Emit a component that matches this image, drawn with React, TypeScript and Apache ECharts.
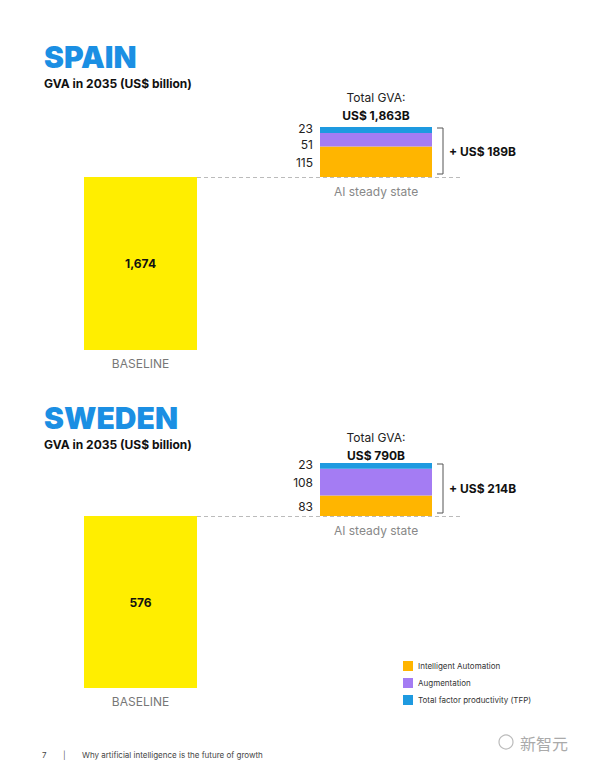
import React, { useEffect, useRef } from "react";
import * as echarts from "echarts";

const countries = ["SPAIN", "SWEDEN"];
const baseline = [1674, 576];
const automation = [115, 83];
const augmentation = [51, 108];
const tfp = [23, 23];
const seriesNames = ["Intelligent Automation", "Augmentation", "Total factor productivity (TFP)"];
const baseCategory = ["BASELINE"];
const aiCategory = ["AI steady state"];

const COLORS = {
  yellow: "#FFEE00",
  orange: "#FFB500",
  purple: "#A47CF3",
  blue: "#1E9AE0",
  title: "#1B8FE3",
};

const FONT = "Inter, 'Noto Sans', sans-serif";

// layout per panel
const panels = [
  { titleY: 58, subY: 85, baseTop: 177, baseH: 173, stackTop: 127, stackH: 50, totalY: 97 },
  { titleY: 419, subY: 446, baseTop: 516, baseH: 172, stackTop: 463, stackH: 53, totalY: 437 },
];

const fmt = (v: number) => v.toLocaleString("en-US");

// keep the stacked value labels apart when segments are thin
const side = (p: any, y: number) => ({ x: p.rect.x - 7, y, align: "right", verticalAlign: "middle" });
const labelLayouts = [
  (p: any) => side(p, p.rect.y + p.rect.height / 2 + 1),
  (p: any) => side(p, Math.max(p.rect.y + p.rect.height / 2, p.rect.y + 11)),
  (p: any) => side(p, p.rect.y + 1),
];

export default function App() {
  const ref = useRef<HTMLDivElement>(null);
  useEffect(() => {
    if (!ref.current) return;
    const chart = echarts.init(ref.current, null, { renderer: "svg" });
    const grids: any[] = [];
    const xAxes: any[] = [];
    const yAxes: any[] = [];
    const series: any[] = [];
    const graphics: any[] = [];

    countries.forEach((c, i) => {
      const p = panels[i];
      const gain = automation[i] + augmentation[i] + tfp[i];
      const total = baseline[i] + gain;
      grids.push({ left: 84, width: 113, top: p.baseTop, height: p.baseH });
      grids.push({ left: 320, width: 112, top: p.stackTop, height: p.stackH });
      const gb = 2 * i;
      const gs = 2 * i + 1;
      xAxes.push({
        type: "category", gridIndex: gb, data: baseCategory,
        axisLine: { show: false }, axisTick: { show: false },
        axisLabel: { color: "#777", fontSize: 12, margin: 7, fontFamily: FONT },
      });
      xAxes.push({
        type: "category", gridIndex: gs, data: aiCategory,
        axisLine: { show: false }, axisTick: { show: false },
        axisLabel: { color: "#888", fontSize: 12, margin: 8, fontFamily: FONT },
      });
      yAxes.push({ type: "value", gridIndex: gb, min: 0, max: baseline[i], show: false, splitLine: { show: false } });
      yAxes.push({ type: "value", gridIndex: gs, min: 0, max: gain, show: false, splitLine: { show: false } });

      series.push({
        type: "bar", name: "Baseline", xAxisIndex: gb, yAxisIndex: gb,
        data: [baseline[i]], barWidth: "100%",
        itemStyle: { color: COLORS.yellow },
        label: {
          show: true, position: "inside", color: "#111", fontSize: 12, fontWeight: "bold",
          fontFamily: FONT, formatter: (d: any) => fmt(d.value),
        },
      });
      const vals = [automation[i], augmentation[i], tfp[i]];
      const cols = [COLORS.orange, COLORS.purple, COLORS.blue];
      vals.forEach((v, k) => {
        series.push({
          type: "bar", name: seriesNames[k], xAxisIndex: gs, yAxisIndex: gs,
          stack: "ai" + i, data: [v], barWidth: "100%",
          itemStyle: { color: cols[k] },
          label: { show: true, position: "left", distance: 7, color: "#222", fontSize: 12, fontFamily: FONT },
          labelLayout: labelLayouts[k],
        });
      });

      graphics.push({
        type: "text", left: 44, top: p.titleY - 16,
        style: { text: c, fontSize: 30, fontWeight: 900, fontFamily: FONT, fill: COLORS.title },
      });
      graphics.push({
        type: "text", left: 44, top: p.subY - 8,
        style: { text: "GVA in 2035 (US$ billion)", fontSize: 12, fontWeight: "bold", fontFamily: FONT, fill: "#111" },
      });
      graphics.push({
        type: "text", x: 376, y: p.totalY,
        style: { text: "Total GVA:", fontSize: 12, fontFamily: FONT, fill: "#222", align: "center", verticalAlign: "middle" },
      });
      graphics.push({
        type: "text", x: 376, y: p.totalY + 18,
        style: { text: `US$ ${fmt(total)}B`, fontSize: 12, fontWeight: "bold", fontFamily: FONT, fill: "#111", align: "center", verticalAlign: "middle" },
      });
      const bTop = p.stackTop + 1;
      const bBot = p.baseTop - 3;
      graphics.push({
        type: "polyline",
        shape: { points: [[437, bTop], [443, bTop], [443, bBot], [437, bBot]] },
        style: { stroke: "#555", lineWidth: 1, fill: null },
      });
      graphics.push({
        type: "text", x: 449, y: (bTop + bBot) / 2,
        style: { text: `+ US$ ${fmt(gain)}B`, fontSize: 12, fontWeight: "bold", fontFamily: FONT, fill: "#111", verticalAlign: "middle" },
      });
      graphics.push({
        type: "line", z: 10,
        shape: { x1: 197, y1: p.baseTop + 0.5, x2: 460, y2: p.baseTop + 0.5 },
        style: { stroke: "#bbb", lineWidth: 1, lineDash: [4, 3] },
      });
    });

    graphics.push({ type: "text", x: 42, y: 755, style: { text: "7", fontSize: 8, fontFamily: FONT, fill: "#444", verticalAlign: "middle" } });
    graphics.push({ type: "text", x: 63, y: 755, style: { text: "|", fontSize: 8, fontFamily: FONT, fill: "#666", verticalAlign: "middle" } });
    graphics.push({ type: "text", x: 82, y: 755, style: { text: "Why artificial intelligence is the future of growth", fontSize: 8, fontFamily: FONT, fill: "#444", verticalAlign: "middle" } });
    graphics.push({ type: "circle", shape: { cx: 506, cy: 742, r: 7 }, style: { fill: null, stroke: "#bbb", lineWidth: 1.2 } });
    graphics.push({ type: "text", x: 520, y: 743, style: { text: "新智元", fontSize: 16, fontFamily: "'Noto Sans CJK SC'", fill: "#aaa", verticalAlign: "middle" } });

    chart.setOption({
      animation: false,
      backgroundColor: "#fff",
      grid: grids,
      xAxis: xAxes,
      yAxis: yAxes,
      series,
      legend: {
        data: seriesNames,
        orient: "vertical",
        left: 398, top: 656,
        itemWidth: 10, itemHeight: 10, itemGap: 7,
        icon: "rect",
        selectedMode: false,
        textStyle: { fontSize: 8, color: "#333", fontFamily: FONT },
      },
      graphic: graphics,
    });
    return () => chart.dispose();
  }, []);
  return <div ref={ref} style={{ position: "fixed", left: 0, top: 0, width: 600, height: 776, background: "#fff" }} />;
}
